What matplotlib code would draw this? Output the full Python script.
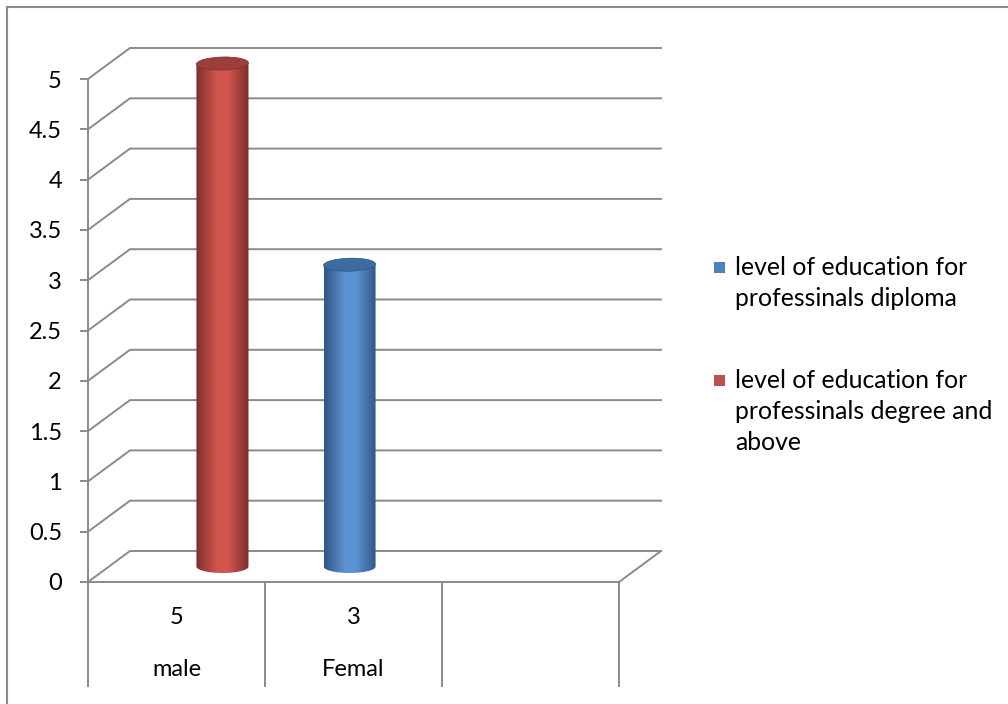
import numpy as np
import matplotlib
matplotlib.use("Agg")
import matplotlib.pyplot as plt
from matplotlib.patches import Ellipse, Rectangle, PathPatch
from matplotlib.path import Path
from matplotlib.colors import LinearSegmentedColormap
from matplotlib.lines import Line2D
from matplotlib.ticker import FuncFormatter

# ---- data ----
categories = ["male", "Femal", ""]
category_numbers = ["5", "3", ""]
series_names = ["level of education for\nprofessinals diploma",
                "level of education for\nprofessinals degree and\nabove"]
diploma = [0, 3, 0]
degree = [5, 0, 0]
yticks = [0, 0.5, 1, 1.5, 2, 2.5, 3, 3.5, 4, 4.5, 5]

# ---- style ----
plt.rcParams['font.family'] = ['Lato', 'DejaVu Sans']
GRID = '#8a8a8a'
FS = 17
LFS = 17.8
series_colors = ['#4F81BD', '#C0504D']
series_light = ['#5d92d3', '#d2564f']
series_dark = ['#2f5583', '#7d2f2c']
series_top = ['#3d6ba0', '#9c3f3c']

W, H = 1008, 704
fig = plt.figure(figsize=(W / 100, H / 100), dpi=100)
ax = fig.add_axes([0, 0, 1, 1])
XPX, YPX = 177.0, 100.6       # pixels per category / per value unit
X0, Y0 = 88.0, 122.0          # pixel position of origin (from left, from bottom)
ax.set_xlim(-X0 / XPX, (W - X0) / XPX)
ax.set_ylim(-Y0 / YPX, (H - Y0) / YPX)
ax.patch.set_visible(False)

DX, DY = 42 / XPX, 31 / YPX   # depth offset
ncat = len(categories)
vmax = yticks[-1]

# gridlines: diagonal on left wall + horizontal on back wall
for v in yticks:
    ax.plot([0, DX, ncat + DX], [v, v + DY, v + DY], color=GRID, lw=1.4,
            zorder=1, solid_joinstyle='miter')
# floor front edge and right diagonal
ax.plot([0, ncat, ncat + DX], [0, 0, DY], color=GRID, lw=1.4, zorder=1)
# table below
tbl_bottom = -104 / YPX
for j in range(ncat + 1):
    ax.plot([j, j], [0, tbl_bottom], color=GRID, lw=1.4, zorder=1)
for j in range(ncat):
    ax.text(j + 0.5, -36 / YPX, category_numbers[j], ha='center', va='center',
            fontsize=FS, color='black')
    ax.text(j + 0.5, -87 / YPX, categories[j], ha='center', va='center',
            fontsize=FS, color='black')

# y axis
for s in ['top', 'right', 'bottom']:
    ax.spines[s].set_visible(False)
ax.spines['left'].set_position(('data', 0))
ax.spines['left'].set_bounds(0, vmax)
ax.spines['left'].set_color(GRID)
ax.spines['left'].set_linewidth(1.4)
ax.spines['left'].set_zorder(1)
ax.set_xticks([])
ax.set_yticks(yticks)
ax.yaxis.set_major_formatter(FuncFormatter(lambda v, p: f"{v:g}"))
ax.tick_params(axis='y', direction='out', length=5.8, width=1.4, color=GRID,
               pad=13, labelsize=FS, labelcolor='black')

# cylinders
half_w = 0.147
eh = 6.5 / YPX
offsets = [-0.141, 0.141]
series_values = [diploma, degree]
for i, vals in enumerate(series_values):
    cmap = LinearSegmentedColormap.from_list(
        f"c{i}", [(0, series_dark[i]), (0.4, series_light[i]), (0.6, series_light[i]),
                  (1, series_dark[i])])
    for j, v in enumerate(vals):
        if v <= 0:
            continue
        cx = j + 0.5 + offsets[i] + DX * 0.5
        yb = DY * 0.5
        yt = v + DY * 0.5
        t = np.linspace(np.pi, 2 * np.pi, 60)
        bx = cx + half_w * np.cos(t)
        by = yb + eh * np.sin(t)
        verts = [(cx - half_w, yt)] + list(zip(bx, by)) + [(cx + half_w, yt), (cx - half_w, yt)]
        path = Path(verts)
        patch = PathPatch(path, facecolor='none', edgecolor='none', zorder=3)
        ax.add_patch(patch)
        grad = np.linspace(0, 1, 256).reshape(1, -1)
        im = ax.imshow(grad, cmap=cmap, aspect='auto',
                       extent=[cx - half_w, cx + half_w, yb - eh, yt],
                       zorder=3, interpolation='bilinear')
        im.set_clip_path(patch)
        ax.add_patch(Ellipse((cx, yt), 2 * half_w, 2 * eh, angle=3,
                             facecolor=series_top[i],
                             edgecolor=series_dark[i], lw=0.5, zorder=4))

ax.set_xlim(-X0 / XPX, (W - X0) / XPX)
ax.set_ylim(-Y0 / YPX, (H - Y0) / YPX)

# legend (manual, Excel-like with square aligned to first line)
legend_y = [268, 381]
legend_order = [0, 1]
for k, i in enumerate(legend_order):
    yp = legend_y[k]
    fig.patches.append(Rectangle(((714) / W, 1 - (yp + 5.5) / H), 11 / W, 11 / H,
                                 transform=fig.transFigure, facecolor=series_colors[i],
                                 edgecolor='none'))
    fig.text(735 / W, 1 - (yp - 12) / H, series_names[i], ha='left', va='top',
             fontsize=LFS, color='black', linespacing=1.42)

# outer frame (top and left edges visible)
fig.lines.append(Line2D([7 / W, 1], [1 - 7 / H, 1 - 7 / H], transform=fig.transFigure,
                        color=GRID, lw=1.5))
fig.lines.append(Line2D([7 / W, 7 / W], [0, 1 - 7 / H], transform=fig.transFigure,
                        color=GRID, lw=1.5))

fig.savefig("out.png", dpi=100, facecolor='white')
